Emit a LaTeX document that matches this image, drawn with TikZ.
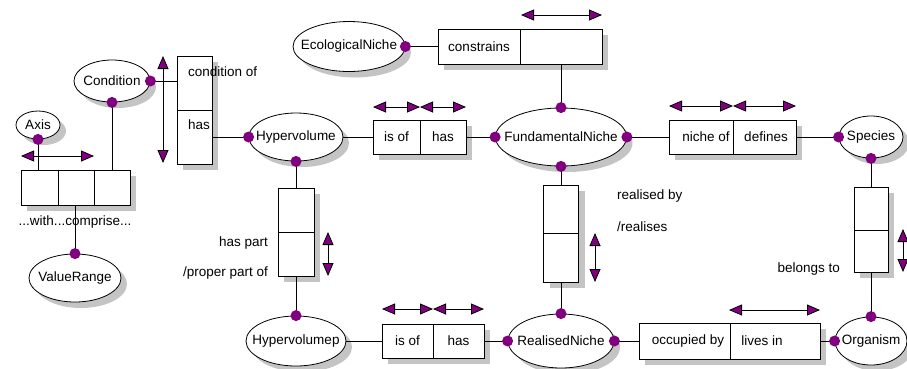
\documentclass[tikz,border=0pt]{standalone}
\usepackage{fontspec}
\setmainfont{Liberation Sans}
\usetikzlibrary{shapes.geometric,shadows,arrows.meta}
\definecolor{pp}{HTML}{800080}
\definecolor{shc}{HTML}{C4C4C4}
\newcommand{\zbx}[1]{\makebox[0pt]{#1}}
\begin{document}
\begin{tikzpicture}[x=1pt,y=-1pt,
  every node/.style={font=\fontsize{13.5}{15}\selectfont},
  sh/.style={preaction={fill=shc,transform canvas={shift={(6pt,-6pt)}}}},
  ent/.style={ellipse,draw,line width=0.8pt,fill=white,sh,inner sep=0pt},
  cell/.style={rectangle,draw,line width=0.8pt,fill=white,sh,inner sep=0pt},
  dot/.style={circle,fill=pp,inner sep=0pt,minimum size=11pt},
  lnk/.style={line width=0.8pt},
  dbl/.style={line width=0.8pt,{Triangle[length=13pt,width=11pt,fill=pp]}-{Triangle[length=13pt,width=11pt,fill=pp]}},
  lbl/.style={inner sep=0pt}]
\useasboundingbox (0,0) rectangle (907,368);

% entities
\node[ent,minimum width=44pt,minimum height=28pt] (axis) at (38,125) {\zbx{Axis}};
\node[ent,minimum width=76pt,minimum height=42pt] (cond) at (112,81) {\zbx{Condition}};
\node[ent,minimum width=92pt,minimum height=48pt] (vr) at (75,278) {\zbx{ValueRange}};
\node[ent,minimum width=94pt,minimum height=48pt] (hv) at (296,137) {\zbx{Hypervolume}};
\node[ent,minimum width=112pt,minimum height=50pt] (eco) at (349,46.5) {\zbx{EcologicalNiche}};
\node[ent,minimum width=131pt,minimum height=58pt] (fn) at (561,137) {\zbx{FundamentalNiche}};
\node[ent,minimum width=64pt,minimum height=42pt] (sp) at (871,137) {\zbx{Species}};
\node[ent,minimum width=100pt,minimum height=50pt] (hvp) at (296,341) {\zbx{Hypervolumep}};
\node[ent,minimum width=106pt,minimum height=54pt] (rn) at (561,341) {\zbx{RealisedNiche}};
\node[ent,minimum width=72pt,minimum height=48pt] (org) at (871,341) {\zbx{Organism}};

% relation boxes
\node[cell,minimum width=37pt,minimum height=35pt] (t1) at (39.5,187.5) {};
\node[cell,minimum width=36pt,minimum height=35pt] (t2) at (76,187.5) {};
\node[cell,minimum width=36pt,minimum height=35pt] (t3) at (112,187.5) {};

\node[cell,minimum width=35pt,minimum height=54pt] (cb1) at (194.5,83) {};
\node[cell,minimum width=35pt,minimum height=54pt] (cb2) at (194.5,137) {};

\node[cell,minimum width=36pt,minimum height=44pt] (hp1) at (296,210) {};
\node[cell,minimum width=36pt,minimum height=44pt] (hp2) at (296,254) {};

\node[cell,minimum width=35pt,minimum height=48pt] (rb1) at (561,209) {};
\node[cell,minimum width=35pt,minimum height=49pt] (rb2) at (561,257.5) {};

\node[cell,minimum width=34pt,minimum height=43pt] (bl1) at (871,208.5) {};
\node[cell,minimum width=34pt,minimum height=42pt] (bl2) at (871,251) {};

\node[cell,minimum width=47pt,minimum height=34pt] (ti1) at (396.5,137) {is of};
\node[cell,minimum width=46pt,minimum height=34pt] (ti2) at (443,137) {has};

\node[cell,minimum width=82pt,minimum height=35pt] (co1) at (479,46.5) {constrains};
\node[cell,minimum width=82pt,minimum height=35pt] (co2) at (561,46.5) {};

\node[cell,minimum width=64pt,minimum height=34pt] (nb1) at (701,137) {};
\node[cell,minimum width=63pt,minimum height=34pt] (nb2) at (764.5,137) {};

\node[cell,minimum width=51pt,minimum height=34pt] (bi1) at (407.5,341) {is of};
\node[cell,minimum width=51pt,minimum height=34pt] (bi2) at (458.5,341) {has};

\node[cell,minimum width=91pt,minimum height=36pt] (oc1) at (684.5,341) {};
\node[cell,minimum width=90pt,minimum height=36pt] (oc2) at (775,341) {};

% labels
\node[lbl,anchor=west] (lcond) at (188,72) {condition of};
\node[lbl,anchor=west] (lhas) at (188,125) {has};
\node[lbl] (lwith) at (75,222) {...with...comprise...};
\node[lbl,anchor=east] (lhp) at (268,243) {has part};
\node[lbl,anchor=east] (lpp) at (268,273) {/proper part of};
\node[lbl,anchor=west] (lrb) at (617,196) {realised by};
\node[lbl,anchor=west] (lrs) at (617,227) {/realises};
\node[lbl,anchor=east] (lbt) at (840,269) {belongs to};
\node[lbl] (lno) at (706,137) {niche of};
\node[lbl] (ldf) at (766,137) {defines};
\node[lbl] (loc) at (688,341) {occupied by};
\node[lbl] (lli) at (762,341) {lives in};

% connectors
\draw[lnk] (cond.east) -- (cond.east -| cb1.west);
\draw[lnk] (cb2.east) -- (hv.west);
\draw[lnk] (axis.south) -- (axis.south |- t1.north);
\draw[lnk] (cond.south) -- (t3.north);
\draw[lnk] (vr.north) -- (vr.north |- t2.south);
\draw[lnk] (hv.south) -- (hp1.north);
\draw[lnk] (hp2.south) -- (hvp.north);
\draw[lnk] (hv.east) -- (ti1.west);
\draw[lnk] (ti2.east) -- (fn.west);
\draw[lnk] (eco.east) -- (co1.west);
\draw[lnk] (co2.south) -- (fn.north);
\draw[lnk] (fn.south) -- (rb1.north);
\draw[lnk] (rb2.south) -- (rn.north);
\draw[lnk] (fn.east) -- (nb1.west);
\draw[lnk] (nb2.east) -- (sp.west);
\draw[lnk] (sp.south) -- (bl1.north);
\draw[lnk] (bl2.south) -- (org.north);
\draw[lnk] (hvp.east) -- (bi1.west);
\draw[lnk] (bi2.east) -- (rn.west);
\draw[lnk] (rn.east) -- (oc1.west);
\draw[lnk] (oc2.east) -- (org.west);

% dots
\node[dot] (d1) at (cond.east) {};
\node[dot] (d2) at (cond.south) {};
\node[dot] (d3) at (axis.south) {};
\node[dot] (d4) at (vr.north) {};
\node[dot] (d5) at (hv.west) {};
\node[dot] (d6) at (hv.south) {};
\node[dot] (d7) at (eco.east) {};
\node[dot] (d8) at (fn.north) {};
\node[dot] (d9) at (fn.west) {};
\node[dot] (d10) at (fn.east) {};
\node[dot] (d11) at (fn.south) {};
\node[dot] (d12) at (sp.west) {};
\node[dot] (d13) at (sp.south) {};
\node[dot] (d14) at (hvp.north) {};
\node[dot] (d15) at (rn.west) {};
\node[dot] (d16) at (rn.east) {};
\node[dot] (d17) at (rn.north) {};
\node[dot] (d18) at (org.west) {};
\node[dot] (d19) at (org.north) {};

% direction arrows
\draw[dbl] (21,156) -- (94,156);
\draw[dbl] (163,56) -- (163,163);
\draw[dbl] (521,15) -- (602,15);
\draw[dbl] (373,107) -- (420,107);
\draw[dbl] (420,107) -- (466,107);
\draw[dbl] (669,106) -- (733,106);
\draw[dbl] (733,106) -- (796,106);
\draw[dbl] (328,232) -- (328,276);
\draw[dbl] (595,233) -- (595,282);
\draw[dbl] (903,229) -- (903,272);
\draw[dbl] (382,309) -- (433,309);
\draw[dbl] (433,309) -- (484,309);
\draw[dbl] (729,310) -- (820,310);
\end{tikzpicture}
\end{document}
